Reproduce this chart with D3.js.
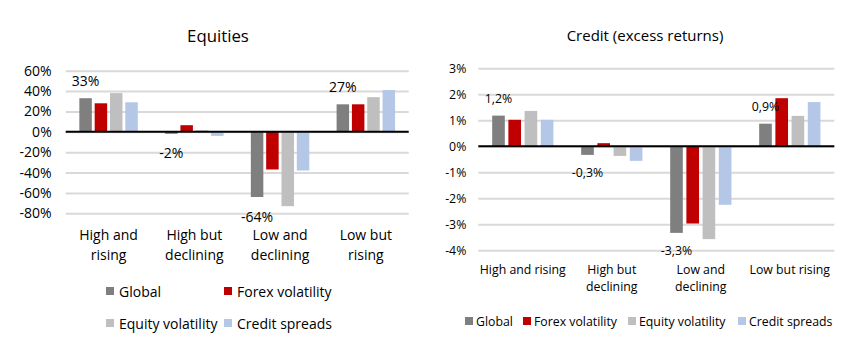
<!DOCTYPE html>
<html>
<head>
<meta charset="utf-8">
<script src="https://cdn.jsdelivr.net/npm/d3@7"></script>
<style>
  html, body { margin: 0; padding: 0; background: #fff; }
  svg text { font-family: "Open Sans", "Noto Sans", sans-serif; fill: #000; }
</style>
</head>
<body>
<svg id="chart" width="851" height="355"></svg>
<script>
// ---- data ----
const series = ["Global", "Forex volatility", "Equity volatility", "Credit spreads"];
const colors = ["#7f7f7f", "#c00000", "#bfbfbf", "#b4c7e7"];

const categoriesEq = [["High and", "rising"], ["High but", "declining"], ["Low and", "declining"], ["Low but", "rising"]];
const equitiesGlobal = [33, -2, -64, 27];
const equitiesForex = [28, 6.5, -37, 27];
const equitiesEquityVol = [38, 1.5, -73, 34];
const equitiesCredit = [29, -4, -38, 41];
const equitiesLabels = ["33%", "-2%", "-64%", "27%"];
const equitiesTicks = [60, 40, 20, 0, -20, -40, -60, -80];

const categoriesCr = [["High and rising"], ["High but", "declining"], ["Low and", "declining"], ["Low but rising"]];
const creditGlobal = [1.18, -0.33, -3.33, 0.87];
const creditForex = [1.02, 0.12, -2.97, 1.85];
const creditEquityVol = [1.36, -0.37, -3.57, 1.17];
const creditCredit = [1.02, -0.56, -2.25, 1.7];
const creditLabels = ["1,2%", "-0,3%", "-3,3%", "0,9%"];
const creditTicks = [3, 2, 1, 0, -1, -2, -3, -4];

const svg = d3.select("#chart");

function drawChart(cfg) {
  const g = svg.append("g");
  const y = d3.scaleLinear().domain(cfg.domain).range(cfg.yRange);
  const x = d3.scaleBand().domain(d3.range(cfg.categories.length)).range(cfg.xRange);
  const inner = d3.scaleBand().domain(d3.range(series.length))
    .range([0, cfg.groupWidth]).paddingInner(cfg.barPad).paddingOuter(cfg.barPad / 2);
  const off = (x.bandwidth() - cfg.groupWidth) / 2;

  // title
  g.append("text").attr("x", cfg.titleX).attr("y", cfg.titleY)
    .attr("text-anchor", "middle").attr("dominant-baseline", "central")
    .style("font-size", cfg.titleSize + "px").text(cfg.title);

  // gridlines + y labels via axis
  const axis = d3.axisLeft(y).tickValues(cfg.ticks)
    .tickSize(-(cfg.xRange[1] - cfg.xRange[0])).tickPadding(cfg.tickPad)
    .tickFormat(cfg.tickFormat);
  const ag = g.append("g").attr("transform", `translate(${cfg.xRange[0]},0)`).call(axis);
  ag.select(".domain").remove();
  ag.selectAll(".tick line").attr("stroke", "#d9d9d9").attr("stroke-width", 2);
  ag.selectAll(".tick text").style("font-size", cfg.fontSize + "px").attr("font-family", null);

  // bars
  const valuesBySeries = cfg.values;
  valuesBySeries.forEach((vals, si) => {
    g.append("g").selectAll("rect").data(vals).join("rect")
      .attr("x", (d, i) => x(i) + off + inner(si))
      .attr("width", inner.bandwidth())
      .attr("y", d => y(Math.max(0, d)))
      .attr("height", d => Math.abs(y(d) - y(0)))
      .attr("fill", colors[si]);
  });

  // zero line
  g.append("line").attr("x1", cfg.xRange[0]).attr("x2", cfg.xRange[1])
    .attr("y1", y(0)).attr("y2", y(0)).attr("stroke", "#000").attr("stroke-width", 2);

  // data labels for Global
  g.append("g").selectAll("text").data(valuesBySeries[0]).join("text")
    .attr("x", (d, i) => x(i) + off + inner(0) + inner.bandwidth() / 2)
    .attr("y", d => d >= 0 ? y(d) - cfg.labelOff : y(d) + cfg.labelOff + 1)
    .attr("text-anchor", "middle").attr("dominant-baseline", "central")
    .style("font-size", cfg.fontSize + "px")
    .text((d, i) => cfg.labels[i]);

  // category labels
  cfg.categories.forEach((lines, i) => {
    const t = g.append("text").attr("text-anchor", "middle")
      .style("font-size", cfg.fontSize + "px");
    lines.forEach((ln, li) => {
      t.append("tspan").attr("x", x(i) + x.bandwidth() / 2)
        .attr("y", cfg.catY + li * cfg.catLine)
        .attr("dominant-baseline", "central").text(ln);
    });
  });

  // legend
  cfg.legend.forEach((p, si) => {
    g.append("rect").attr("x", p[0]).attr("y", p[1] - 4).attr("width", 8).attr("height", 8)
      .attr("fill", colors[si]);
    g.append("text").attr("x", p[0] + cfg.legendGap).attr("y", p[1])
      .attr("dominant-baseline", "central").style("font-size", cfg.fontSize + "px")
      .text(series[si]);
  });
}

drawChart({
  title: "Equities", titleX: 218, titleY: 35, titleSize: 16.8,
  domain: [-80, 60], yRange: [213.3, 70.7], xRange: [65.7, 408.7],
  ticks: equitiesTicks, tickFormat: d => d + "%", tickPad: 14,
  values: [equitiesGlobal, equitiesForex, equitiesEquityVol, equitiesCredit],
  labels: equitiesLabels, labelOff: 18,
  categories: categoriesEq, catY: 234, catLine: 20,
  groupWidth: 61.3, barPad: 0.185, fontSize: 14,
  legend: [[106, 291], [224, 291], [106, 323], [224, 323]], legendGap: 13
});

drawChart({
  title: "Credit (excess returns)", titleX: 645, titleY: 35, titleSize: 15,
  domain: [-4, 3], yRange: [250.3, 68.3], xRange: [478.3, 834.3],
  ticks: creditTicks, tickFormat: d => d + "%", tickPad: 12,
  values: [creditGlobal, creditForex, creditEquityVol, creditCredit],
  labels: creditLabels, labelOff: 17,
  categories: categoriesCr, catY: 269, catLine: 17,
  groupWidth: 64.8, barPad: 0.22, fontSize: 12.3,
  legend: [[465, 321], [523, 321], [628, 321], [738, 321]], legendGap: 11
});
</script>
</body>
</html>
